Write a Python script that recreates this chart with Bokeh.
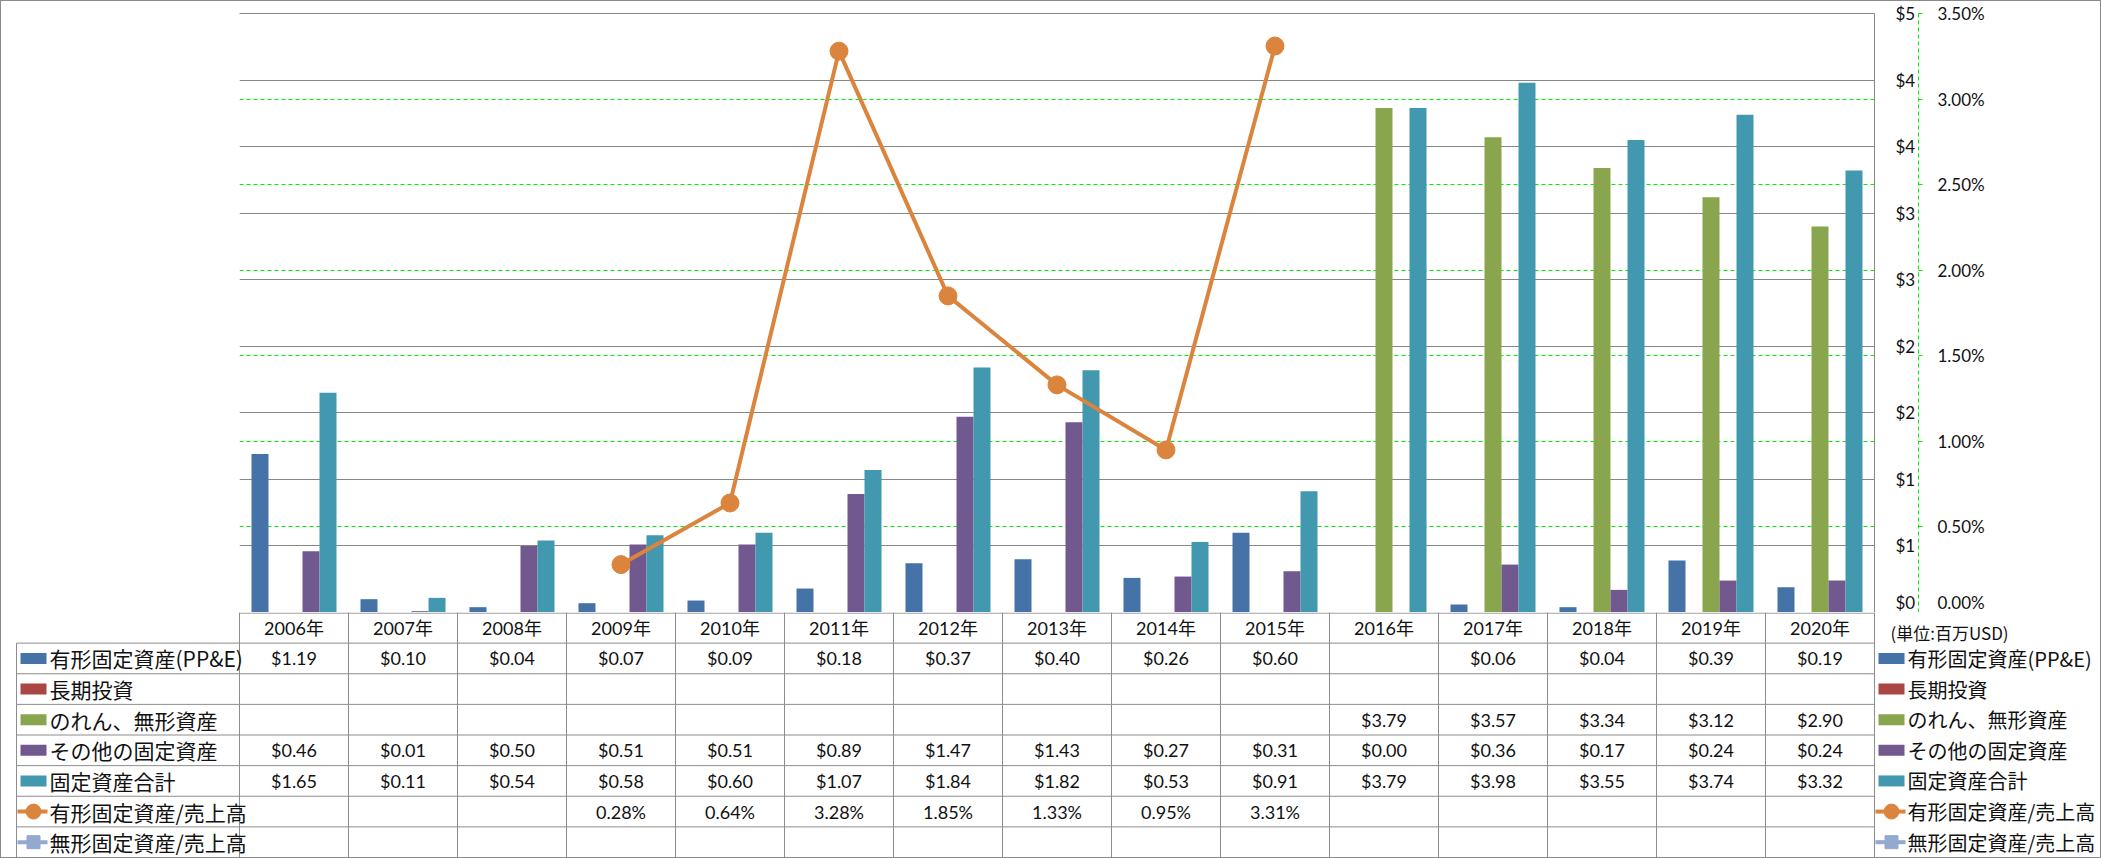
import numpy as np
from bokeh.plotting import figure
from bokeh.layouts import column
from bokeh.models import (Range1d, LinearAxis, FixedTicker, NumeralTickFormatter,
                          Grid, ColumnDataSource)
from bokeh.core.properties import value
from bokeh.transform import dodge
from bokeh.embed import file_html
from bokeh.resources import INLINE

# ---------------- data ----------------
years = ["2006年", "2007年", "2008年", "2009年", "2010年", "2011年", "2012年", "2013年",
         "2014年", "2015年", "2016年", "2017年", "2018年", "2019年", "2020年"]
ppe = [1.19, 0.10, 0.04, 0.07, 0.09, 0.18, 0.37, 0.40, 0.26, 0.60, None, 0.06, 0.04, 0.39, 0.19]
lt_invest = [None, None, None, None, None, None, None, None, None, None, None, None, None, None, None]
goodwill = [None, None, None, None, None, None, None, None, None, None, 3.79, 3.57, 3.34, 3.12, 2.90]
other_fixed = [0.46, 0.01, 0.50, 0.51, 0.51, 0.89, 1.47, 1.43, 0.27, 0.31, 0.00, 0.36, 0.17, 0.24, 0.24]
total_fixed = [1.65, 0.11, 0.54, 0.58, 0.60, 1.07, 1.84, 1.82, 0.53, 0.91, 3.79, 3.98, 3.55, 3.74, 3.32]
ppe_ratio = [None, None, None, 0.0028, 0.0064, 0.0328, 0.0185, 0.0133, 0.0095, 0.0331,
             None, None, None, None, None]
intangible_ratio = [None, None, None, None, None, None, None, None, None, None, None, None, None, None, None]

series_names = ["有形固定資産(PP&E)", "長期投資", "のれん、無形資産", "その他の固定資産",
                "固定資産合計", "有形固定資産/売上高", "無形固定資産/売上高"]
usd_ticks = [0, 0.5, 1.0, 1.5, 2.0, 2.5, 3.0, 3.5, 4.0, 4.5]
pct_ticks = [0, 0.005, 0.010, 0.015, 0.020, 0.025, 0.030, 0.035]
unit_label = "(単位:百万USD)"

# ---------------- styles ----------------
C_BLUE, C_RED, C_GREEN, C_PURPLE, C_TEAL = "#4572A7", "#AA4643", "#89A54E", "#71588F", "#4198AF"
C_ORANGE, C_LBLUE = "#DB843D", "#93A9CF"
GRID_GRAY = "#868686"
LIME = "#00EE00"
NUM_FONT_S = "Lato, 'Noto Sans CJK JP', sans-serif"
NUM_FONT = value(NUM_FONT_S)
JP_FONT = value("'Noto Sans CJK JP', sans-serif")


def arr(v):
    return np.array([np.nan if x is None else x for x in v], dtype=float)


n = len(years)
INNER_W, INNER_H = 2099, 856
TOP_H = 611
BOT_H = INNER_H - TOP_H
FR_L, FR_R, FR_T = 238, 226, 12
PAD_T = 2                               # px of headroom so the top gridline is not clipped
PLOT_H = TOP_H - FR_T                   # px between top gridline and baseline
CAT = (INNER_W - FR_L - FR_R) / n       # pixels per category
bar_w = 0.156

xs = np.arange(n) + 0.5
src = ColumnDataSource(dict(
    x=xs, ppe=arr(ppe), lt=arr(lt_invest), gw=arr(goodwill), oth=arr(other_fixed),
    tot=arr(total_fixed), r1=arr(ppe_ratio), r2=arr(intangible_ratio)))

usd_top = usd_ticks[-1] * (PLOT_H + PAD_T) / PLOT_H
pct_top = pct_ticks[-1] * (PLOT_H + PAD_T) / PLOT_H

# ---------------- chart ----------------
p = figure(width=INNER_W, height=TOP_H, x_range=Range1d(0, n), y_range=Range1d(usd_ticks[0], usd_top),
           x_axis_location=None, y_axis_location=None, toolbar_location=None,
           output_backend="svg", title=None, outline_line_color=None, frame_align=False,
           min_border_left=FR_L, min_border_right=FR_R, min_border_top=FR_T - PAD_T,
           min_border_bottom=0)
p.grid.visible = False
p.extra_y_ranges = {"pct": Range1d(pct_ticks[0], pct_top)}

ax_usd = LinearAxis(ticker=FixedTicker(ticks=usd_ticks), formatter=NumeralTickFormatter(format="$0"),
                    axis_line_color=GRID_GRAY, major_tick_out=0, major_tick_in=0,
                    minor_tick_out=0, minor_tick_in=0, major_label_standoff=21,
                    bounds=(usd_ticks[0], usd_ticks[-1]),
                    major_label_text_font=NUM_FONT_S, major_label_text_font_size="17px",
                    major_label_text_color="#111111")
p.add_layout(ax_usd, "right")
ax_pct = LinearAxis(y_range_name="pct", ticker=FixedTicker(ticks=pct_ticks),
                    formatter=NumeralTickFormatter(format="0.00%"),
                    bounds=(pct_ticks[0], pct_ticks[-1]),
                    axis_line_color=LIME, axis_line_dash="4 3", major_tick_line_color=LIME,
                    major_tick_out=4, major_tick_in=0, minor_tick_out=0, minor_tick_in=0,
                    major_label_standoff=15, major_label_text_font=NUM_FONT_S,
                    major_label_text_font_size="17px", major_label_text_color="#111111")
p.add_layout(ax_pct, "right")

p.add_layout(Grid(dimension=1, ticker=ax_pct.ticker, y_range_name="pct",
                  grid_line_color=LIME, grid_line_dash="4 3"))
p.add_layout(Grid(dimension=1, ticker=ax_usd.ticker, grid_line_color=GRID_GRAY))

bar_series = [("ppe", C_BLUE), ("lt", C_RED), ("gw", C_GREEN), ("oth", C_PURPLE), ("tot", C_TEAL)]
for k, (key, col) in enumerate(bar_series):
    p.vbar(x=dodge("x", (k - 2) * bar_w, range=p.x_range), top=key, width=bar_w,
           source=src, fill_color=col, line_color=None)

p.line(x="x", y="r1", y_range_name="pct", source=src, line_color=C_ORANGE, line_width=4)
p.scatter(x="x", y="r1", y_range_name="pct", source=src, size=18,
          fill_color=C_ORANGE, line_color=C_ORANGE)
p.line(x="x", y="r2", y_range_name="pct", source=src, line_color=C_LBLUE, line_width=4)
p.scatter(x="x", y="r2", y_range_name="pct", source=src, marker="square", size=14,
          fill_color=C_LBLUE, line_color=C_LBLUE)

# ---------------- data table ----------------
n_rows = len(series_names) + 1
t = figure(width=INNER_W, height=BOT_H,
           x_range=Range1d(-FR_L / CAT, (INNER_W - FR_L) / CAT), y_range=Range1d(n_rows, 0),
           x_axis_location=None, y_axis_location=None, toolbar_location=None,
           output_backend="svg", title=None, outline_line_color=None, min_border=0,
           frame_align=False)
t.grid.visible = False


def px(ax):
    """absolute page x pixel -> table x coordinate"""
    return (ax - 1 - FR_L) / CAT


x_left = px(16)
x0s, y0s, x1s, y1s = [], [], [], []
x0s.append(0); y0s.append(0.02); x1s.append(n); y1s.append(0.02)
for r in range(1, n_rows):
    x0s.append(x_left); y0s.append(r); x1s.append(n); y1s.append(r)
for i in range(n + 1):
    x0s.append(i); y0s.append(0); x1s.append(i); y1s.append(n_rows)
x0s.append(x_left); y0s.append(1); x1s.append(x_left); y1s.append(n_rows)
t.segment(x0=x0s, y0=y0s, x1=x1s, y1=y1s, line_color="#8C8C8C", line_width=1)

t.text(x=list(xs), y=[0.5] * n, text=years, text_align="center", text_baseline="middle",
       text_font=NUM_FONT, text_font_size="18px", text_color="#111111")


def fmt_usd(v):
    return "" if v is None else "${:.2f}".format(v)


def fmt_pct(v):
    return "" if v is None else "{:.2f}%".format(v * 100)


rows_text = [
    [fmt_usd(v) for v in ppe],
    [fmt_usd(v) for v in lt_invest],
    [fmt_usd(v) for v in goodwill],
    [fmt_usd(v) for v in other_fixed],
    [fmt_usd(v) for v in total_fixed],
    [fmt_pct(v) for v in ppe_ratio],
    [fmt_pct(v) for v in intangible_ratio],
]
tx, ty, tt = [], [], []
for r, row in enumerate(rows_text):
    for i, s in enumerate(row):
        if s:
            tx.append(xs[i]); ty.append(r + 1.5); tt.append(s)
t.text(x=tx, y=ty, text=tt, text_align="center", text_baseline="middle",
       text_font=NUM_FONT, text_font_size="18px", text_color="#111111")

series_colors = [C_BLUE, C_RED, C_GREEN, C_PURPLE, C_TEAL, C_ORANGE, C_LBLUE]
series_kind = ["bar", "bar", "bar", "bar", "bar", "circle", "square"]
for key_l, key_r, text_x, fs in [(20, 46, 49, "21px"), (1878, 1904, 1907, "20px")]:
    yc = [r + 1.5 for r in range(len(series_names))]
    cx = px((key_l + key_r) / 2)
    for r, (kind, col) in enumerate(zip(series_kind, series_colors)):
        y = yc[r]
        if kind == "bar":
            t.rect(x=[cx], y=[y], width=key_r - key_l, height=11, width_units="screen",
                   height_units="screen", fill_color=col, line_color=None)
        else:
            t.segment(x0=[px(key_l - 3)], y0=[y], x1=[px(key_r + 1)], y1=[y],
                      line_color=col, line_width=4)
            t.scatter(x=[cx], y=[y], marker=kind, size=15 if kind == "circle" else 13,
                      fill_color=col, line_color=col)
    t.text(x=[px(text_x)] * len(series_names), y=yc, text=series_names,
           text_align="left", text_baseline="middle", text_font=JP_FONT,
           text_font_size=fs, text_color="#111111")

t.text(x=[px(1890)], y=[(632 - 612) / (BOT_H / n_rows)], text=[unit_label],
       text_align="left", text_baseline="middle", text_font=JP_FONT,
       text_font_size="17px", text_color="#111111")

layout = column(p, t, styles={"border": "1px solid #8A8A8A"})
open("out.html", "w").write(file_html(layout, INLINE))
